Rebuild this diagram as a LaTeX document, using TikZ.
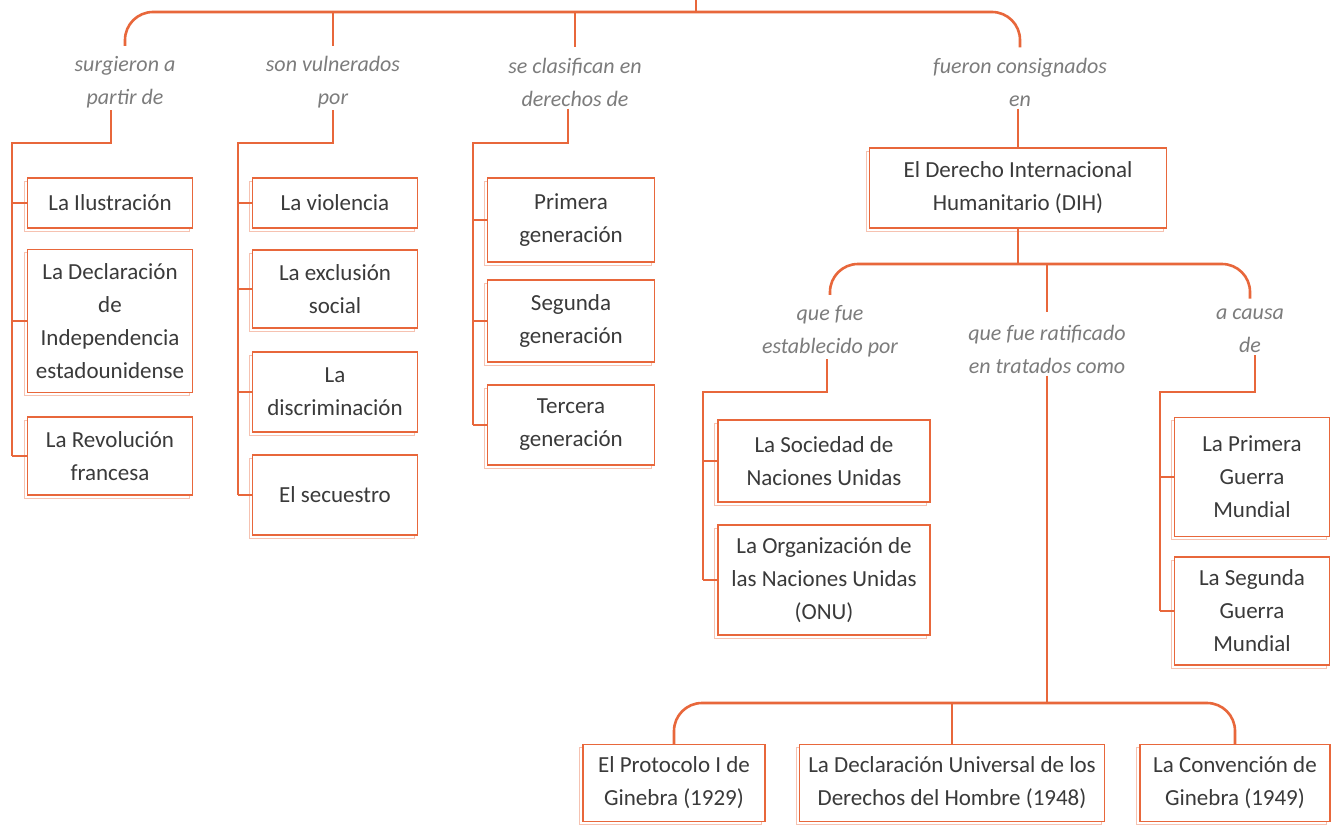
\documentclass[tikz,border=0pt]{standalone}
\usepackage{fontspec}
\setmainfont{Carlito}
\usepackage{xcolor}
\usepackage{tikz}
\usetikzlibrary{calc,shadows}
\definecolor{linex}{HTML}{E8673B}
\definecolor{textx}{HTML}{3A3A3A}
\definecolor{labx}{HTML}{7C7C7C}
\tikzset{
  ln/.style={linex,line width=1.3pt},
  bus/.style={ln,rounded corners=14pt},
  box/.style={draw=linex,line width=0.7pt,fill=white,align=center,text=textx,inner sep=2pt,
    font=\fontsize{11.5}{16.5}\selectfont,
    general shadow={shadow xshift=-1.6pt,shadow yshift=-1.6pt,draw=linex!40,fill=white,line width=0.6pt}},
  lab/.style={align=center,text=labx,inner sep=1pt,font=\itshape\fontsize{11}{16.5}\selectfont}
}

\begin{document}
\begin{tikzpicture}[x=0.5pt,y=-0.5pt]
\useasboundingbox (0,0) rectangle (1339,835);
\fill[white] (0,0) rectangle (1339,835);
% first level
\coordinate (top) at (696,0);
\coordinate (bus1) at (696,12);
\node[lab] (lsurg) at (125,82) {surgieron a\\partir de};
\node[lab] (lvuln) at (333,82) {son vulnerados\\por};
\node[lab] (lclas) at (575,82) {se clasifican en\\derechos de};
\node[lab] (lcons) at (1020,82) {fueron consignados\\en};
\draw[ln] (top) -- (bus1);
\draw[bus] ([yshift=4pt]lsurg.north) |- (bus1) -| ([yshift=4pt]lcons.north);
\draw[ln] (bus1 -| lvuln) -- ([yshift=4pt]lvuln.north);
\draw[ln] (bus1 -| lclas) -- ([yshift=4pt]lclas.north);
% column 1
\node[box,minimum width=82.5pt,minimum height=25pt] (ilus) at (110,203) {La Ilustración};
\node[box,minimum width=82.5pt,minimum height=71.5pt] (decl) at (110,321) {La Declaración\\de\\Independencia\\estadounidense};
\node[box,minimum width=82.5pt,minimum height=39pt] (revo) at (110,456) {La Revolución\\francesa};
\coordinate (sp1) at (12,143);
\draw[ln] ([xshift=-7pt]lsurg.south) |- (sp1) -- (sp1 |- revo);
\foreach \b in {ilus,decl,revo} \draw[ln] (sp1 |- \b) -- (\b.west);
% column 2
\node[box,minimum width=82.5pt,minimum height=25pt] (viol) at (335,203) {La violencia};
\node[box,minimum width=82.5pt,minimum height=39pt] (excl) at (335,289) {La exclusión\\social};
\node[box,minimum width=82.5pt,minimum height=40pt] (disc) at (335,392) {La\\discriminación};
\node[box,minimum width=82.5pt,minimum height=40pt] (secu) at (335,495) {El secuestro};
\coordinate (sp2) at (238,143);
\draw[ln] (lvuln.south) |- (sp2) -- (sp2 |- secu);
\foreach \b in {viol,excl,disc,secu} \draw[ln] (sp2 |- \b) -- (\b.west);
% column 3
\node[box,minimum width=83.5pt,minimum height=42pt] (prim) at (571,220) {Primera\\generación};
\node[box,minimum width=83.5pt,minimum height=41pt] (segu) at (571,321) {Segunda\\generación};
\node[box,minimum width=83.5pt,minimum height=40pt] (terc) at (571,425) {Tercera\\generación};
\coordinate (sp3) at (473,143);
\draw[ln] ([xshift=-3.5pt]lclas.south) |- (sp3) -- (sp3 |- terc);
\foreach \b in {prim,segu,terc} \draw[ln] (sp3 |- \b) -- (\b.west);
% DIH
\node[box,minimum width=148.5pt,minimum height=40pt] (dih) at (1018,188) {El Derecho Internacional\\Humanitario (DIH)};
\draw[ln] (lcons.south -| dih.north) -- (dih.north);
\coordinate (bus2) at (1018,264);
\node[lab] (lestab) at (830,331) {que fue\\establecido por};
\node[lab] (lratif) at (1047,349) {que fue ratificado\\en tratados como};
\node[lab] (lcausa) at (1250,331) {a causa\\de};
\draw[ln] (dih.south) -- (bus2);
\draw[bus] ([yshift=4pt]lestab.north) |- (bus2) -| ([yshift=4pt]lcausa.north);
\draw[ln] (bus2 -| lratif) -- ([yshift=5pt]lratif.north);
% established by
\node[box,minimum width=106pt,minimum height=41pt] (sdn) at (824,461) {La Sociedad de\\Naciones Unidas};
\node[box,minimum width=106pt,minimum height=55pt] (onu) at (824,580) {La Organización de\\las Naciones Unidas\\(ONU)};
\coordinate (sp5) at (703,392);
\draw[ln] ([xshift=-1.5pt]lestab.south) |- (sp5) -- (sp5 |- onu);
\foreach \b in {sdn,onu} \draw[ln] (sp5 |- \b) -- (\b.west);
% because of
\node[box,minimum width=77.5pt,minimum height=59.5pt] (pgm) at (1252,477) {La Primera\\Guerra\\Mundial};
\node[box,minimum width=77.5pt,minimum height=54pt] (sgm) at (1252,611) {La Segunda\\Guerra\\Mundial};
\coordinate (sp6) at (1160,392);
\draw[ln] ([xshift=2.5pt]lcausa.south) |- (sp6) -- (sp6 |- sgm);
\foreach \b in {pgm,sgm} \draw[ln] (sp6 |- \b) -- (\b.west);
% treaties
\node[box,minimum width=91pt,minimum height=38.5pt] (prot) at (674,783) {El Protocolo I de\\Ginebra (1929)};
\node[box,minimum width=152.5pt,minimum height=38.5pt] (dudh) at (952,783) {La Declaración Universal de los\\Derechos del Hombre (1948)};
\node[box,minimum width=95pt,minimum height=38.5pt] (conv) at (1235,783) {La Convención de\\Ginebra (1949)};
\coordinate (bus3) at (1047,703);
\draw[ln] (lratif.south) -- (bus3);
\draw[bus] (prot.north) |- (bus3) -| (conv.north);
\draw[ln] (bus3 -| dudh) -- (dudh.north);
\end{tikzpicture}
\end{document}
